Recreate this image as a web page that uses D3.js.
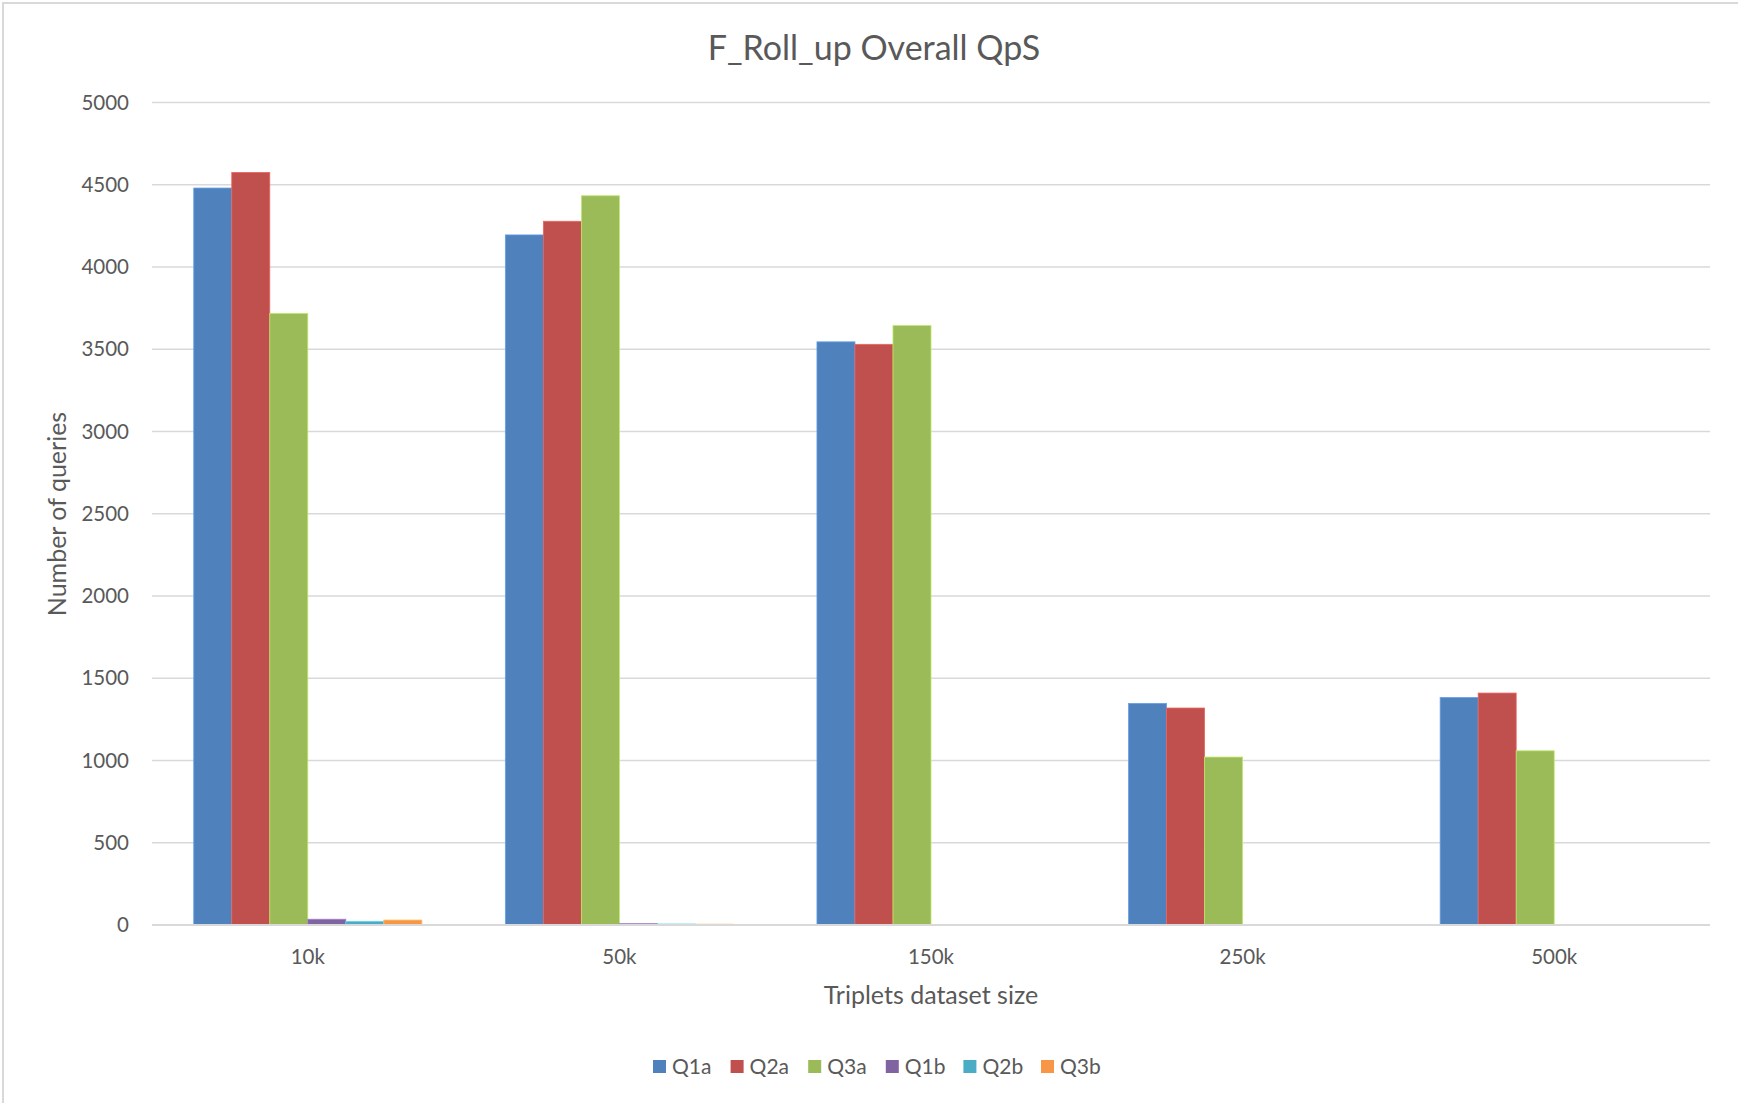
<!DOCTYPE html>
<html>
<head>
<meta charset="utf-8">
<script src="https://cdn.jsdelivr.net/npm/d3@7"></script>
<style>
  html, body { margin: 0; padding: 0; background: #fff; }
  svg { display: block; }
  text { font-family: Lato, "Open Sans", sans-serif; fill: #595959; }
</style>
</head>
<body>
<script>
// Dataset sizes on the x axis
const categories = ["10k", "50k", "150k", "250k", "500k"];
const seriesNames = ["Q1a", "Q2a", "Q3a", "Q1b", "Q2b", "Q3b"];
const seriesColors = ["#4F81BD", "#C0504D", "#9BBB59", "#8064A2", "#4BACC6", "#F79646"];

// Queries per second for each query type
const q1a = [4480, 4195, 3545, 1347, 1383];
const q2a = [4575, 4278, 3530, 1319, 1410];
const q3a = [3718, 4433, 3644, 1021, 1059];
const q1b = [35, 8, 0, 0, 0];
const q2b = [22, 6, 0, 0, 0];
const q3b = [30, 5, 0, 0, 0];
const seriesValues = [q1a, q2a, q3a, q1b, q2b, q3b];

const yTicks = [0, 500, 1000, 1500, 2000, 2500, 3000, 3500, 4000, 4500, 5000];

const W = 1738, H = 1103;
const plot = { left: 152, right: 1710, top: 102.5, bottom: 925 };

const svg = d3.select("body").append("svg").attr("width", W).attr("height", H);

// Chart frame (top and left edges visible)
svg.append("path")
  .attr("d", `M3,${H} L3,3 L${W},3`)
  .attr("fill", "none").attr("stroke", "#D9D9D9").attr("stroke-width", 2);

const x0 = d3.scaleBand().domain(categories)
  .range([plot.left, plot.right])
  .paddingInner(0.268).paddingOuter(0.134);
const x1 = d3.scaleBand().domain(seriesNames).range([0, x0.bandwidth()]).padding(0);
const y = d3.scaleLinear().domain([0, 5000]).range([plot.bottom, plot.top]);

// Horizontal gridlines
svg.append("g").selectAll("line").data(yTicks).join("line")
  .attr("x1", plot.left).attr("x2", plot.right)
  .attr("y1", d => y(d)).attr("y2", d => y(d))
  .attr("stroke", "#D9D9D9").attr("stroke-width", 1.5);

// Y axis tick labels
const yAxis = d3.axisLeft(y).tickValues(yTicks).tickSize(0).tickPadding(0).tickFormat(d3.format("d"));
svg.append("g").attr("transform", `translate(129,0)`).call(yAxis)
  .call(g => g.select(".domain").remove())
  .call(g => g.selectAll("text").style("font-size", "20.5px").attr("fill", "#595959")
    .style("font-family", "Lato, 'Open Sans', sans-serif"));

// Bars
const groups = svg.append("g").selectAll("g").data(categories).join("g")
  .attr("transform", d => `translate(${x0(d)},0)`);
groups.selectAll("rect")
  .data((c, i) => seriesNames.map((s, k) => ({ s, k, v: seriesValues[k][i] })))
  .join("rect")
  .attr("x", d => x1(d.s))
  .attr("width", x1.bandwidth())
  .attr("y", d => y(d.v))
  .attr("height", d => y(0) - y(d.v))
  .attr("fill", d => seriesColors[d.k])
  .attr("stroke", d => d3.color(seriesColors[d.k]).brighter(0.6))
  .attr("stroke-width", d => d.v > 0 ? 0.8 : 0);

// Baseline
svg.append("line")
  .attr("x1", plot.left).attr("x2", plot.right)
  .attr("y1", y(0)).attr("y2", y(0))
  .attr("stroke", "#D9D9D9").attr("stroke-width", 2);

// X axis labels
const xAxis = d3.axisBottom(x0).tickSize(0).tickPadding(0);
svg.append("g").attr("transform", `translate(0,${y(0) + 24})`).call(xAxis)
  .call(g => g.select(".domain").remove())
  .call(g => g.selectAll("text").style("font-size", "20.5px").attr("fill", "#595959")
    .style("font-family", "Lato, 'Open Sans', sans-serif"));

// Title
svg.append("text").attr("x", 874).attr("y", 60).attr("text-anchor", "middle")
  .style("font-size", "34px").text("F_Roll_up Overall QpS");

// Axis titles
svg.append("text").attr("x", 931).attr("y", 1004).attr("text-anchor", "middle")
  .style("font-size", "25px").text("Triplets dataset size");
svg.append("text").attr("transform", `translate(66,514) rotate(-90)`).attr("text-anchor", "middle")
  .style("font-size", "25px").text("Number of queries");

// Legend
const legend = svg.append("g").selectAll("g").data(seriesNames).join("g")
  .attr("transform", (d, i) => `translate(${653 + i * 77.6},1060)`);
legend.append("rect").attr("width", 13).attr("height", 13).attr("fill", (d, i) => seriesColors[i]);
legend.append("text").attr("x", 19).attr("y", 14).style("font-size", "21px").text(d => d);
</script>
</body>
</html>
